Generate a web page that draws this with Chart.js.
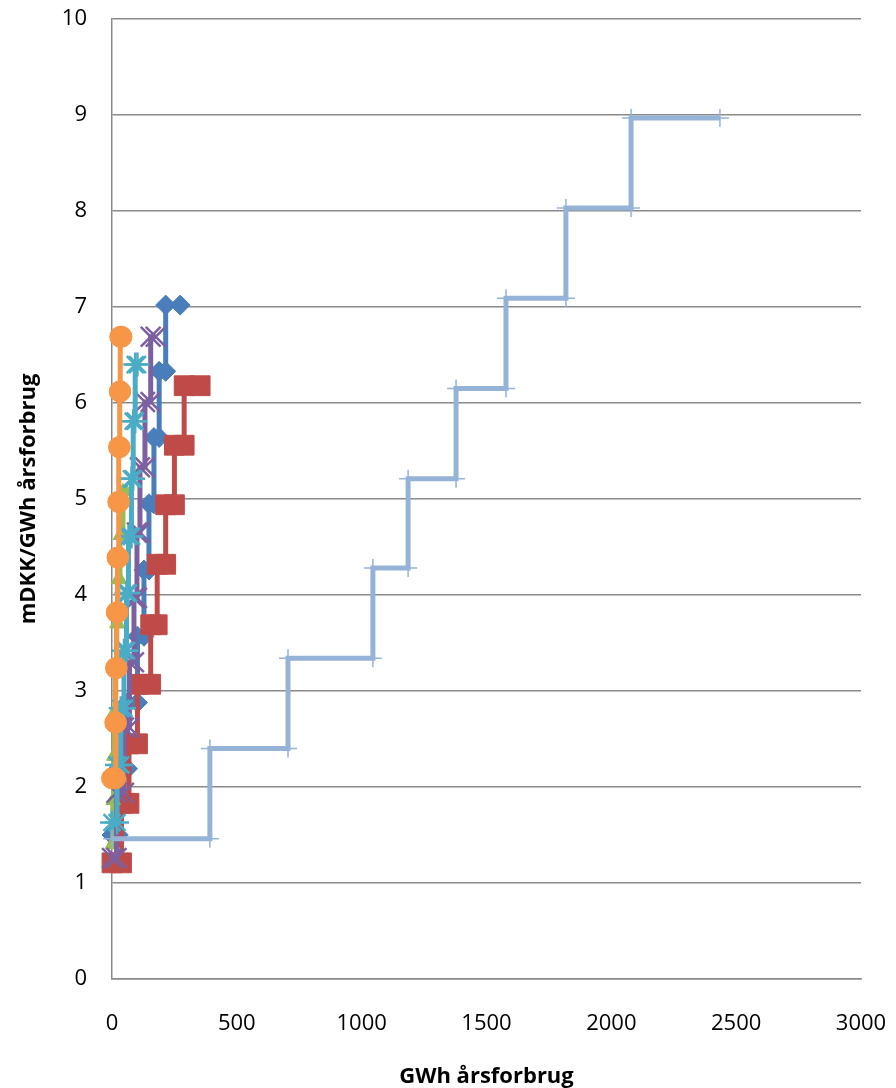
<!DOCTYPE html>
<html>
<head>
<meta charset="utf-8">
<script src="https://cdn.jsdelivr.net/npm/chart.js@4.4.1/dist/chart.umd.min.js"></script>
<style>
  html, body { margin: 0; padding: 0; background: #ffffff; }
  #wrap { width: 896px; height: 1088px; position: relative; }
</style>
</head>
<body>
<div id="wrap"><canvas id="c"></canvas></div>
<script>
// Cumulative annual consumption (GWh) at each step boundary, and the cost level of each step
const xTicks = [0, 500, 1000, 1500, 2000, 2500, 3000];
const yTicks = [0, 1, 2, 3, 4, 5, 6, 7, 8, 9, 10];

const s1X = [0, 25, 62, 102, 128, 148, 168, 189, 215, 273];
const s1Y = [1.50, 2.19, 2.88, 3.57, 4.26, 4.95, 5.64, 6.33, 7.02];

const s2X = [0, 38, 68, 102, 155, 181, 215, 250, 289, 353];
const s2Y = [1.21, 1.83, 2.45, 3.07, 3.69, 4.32, 4.94, 5.56, 6.18];

const s3X = [0, 3, 6, 9, 13, 18, 24, 32, 44, 56];
const s3Y = [1.40, 1.86, 2.32, 2.78, 3.24, 3.70, 4.16, 4.62, 5.08];

const s4X = [0, 18, 48, 70, 88, 100, 112, 132, 155, 175];
const s4Y = [1.26, 1.94, 2.62, 3.30, 3.97, 4.65, 5.33, 6.01, 6.69];

const s5X = [0, 20, 35, 48, 58, 66, 78, 85, 93, 102];
const s5Y = [1.63, 2.23, 2.82, 3.42, 4.02, 4.61, 5.21, 5.81, 6.40];

const s6X = [0, 13, 16, 19, 22, 25, 28, 31, 33, 38];
const s6Y = [2.09, 2.67, 3.24, 3.82, 4.39, 4.97, 5.54, 6.12, 6.69];

const s7X = [0, 392, 705, 1045, 1186, 1378, 1578, 1818, 2079, 2435];
const s7Y = [1.46, 2.40, 3.34, 4.28, 5.21, 6.15, 7.09, 8.03, 8.97];

// Turn boundaries + levels into a staircase: each level runs from one boundary to the next
function steps(xs, ys) {
  const pts = [];
  for (let i = 0; i < ys.length; i++) {
    pts.push({ x: xs[i], y: ys[i] });
    pts.push({ x: xs[i + 1], y: ys[i] });
  }
  return pts;
}

function series(xs, ys, color, style, radius, pbw, order) {
  return {
    data: steps(xs, ys),
    showLine: true,
    borderColor: color,
    backgroundColor: color,
    borderWidth: 5,
    pointStyle: style,
    pointRadius: radius,
    pointBorderWidth: pbw,
    pointBorderColor: color,
    pointBackgroundColor: color,
    clip: false,
    order: order
  };
}

const FONT = '"Open Sans", "Liberation Sans", sans-serif';
const GRID = '#8a8a8a';

new Chart(document.getElementById('c'), {
  type: 'scatter',
  data: {
    datasets: [
      series(s1X, s1Y, '#4A7EBB', 'rectRot', 10, 1, 7),
      series(s2X, s2Y, '#BE4B48', 'rect', 14, 1, 6),
      series(s3X, s3Y, '#9BBB59', 'triangle', 8, 1, 5),
      series(s4X, s4Y, '#7D60A0', 'crossRot', 14, 2.5, 4),
      series(s5X, s5Y, '#4BACC6', 'star', 12, 2.5, 3),
      series(s6X, s6Y, '#F79646', 'circle', 10.5, 1, 2),
      series(s7X, s7Y, '#95B3D7', 'cross', 9, 1.5, 1)
    ]
  },
  options: {
    responsive: true,
    maintainAspectRatio: false,
    animation: false,
    layout: { padding: { left: 0, right: 35, top: 19, bottom: 0 } },
    plugins: { legend: { display: false }, tooltip: { enabled: false } },
    scales: {
      x: {
        type: 'linear',
        min: 0,
        max: 3000,
        afterBuildTicks: (ax) => { ax.ticks = xTicks.map(v => ({ value: v })); },
        afterFit: (ax) => { ax.height = 109; ax.paddingLeft = 0; ax.paddingRight = 0; },
        grid: { display: false, drawTicks: false },
        border: { display: true, color: GRID, width: 1.5 },
        ticks: {
          padding: 32,
          color: '#000000',
          font: { family: FONT, size: 22 },
          callback: (v) => String(v)
        },
        title: {
          display: true,
          text: 'GWh årsforbrug',
          color: '#000000',
          font: { family: FONT, size: 22, weight: 'bold' },
          padding: { top: 0, bottom: -2 }
        }
      },
      y: {
        type: 'linear',
        min: 0,
        max: 10,
        afterBuildTicks: (ax) => { ax.ticks = yTicks.map(v => ({ value: v })); },
        afterFit: (ax) => { ax.width = 112; ax.paddingTop = 0; ax.paddingBottom = 0; },
        grid: { color: GRID, lineWidth: 1.5, drawTicks: false },
        border: { display: true, color: GRID, width: 1.5 },
        ticks: {
          padding: 25,
          color: '#000000',
          font: { family: FONT, size: 22 },
          callback: (v) => String(v)
        },
        title: {
          display: true,
          text: 'mDKK/GWh årsforbrug',
          color: '#000000',
          font: { family: FONT, size: 22, weight: 'bold' },
          padding: { top: 16, bottom: 0 }
        }
      }
    }
  }
});
</script>
</body>
</html>
